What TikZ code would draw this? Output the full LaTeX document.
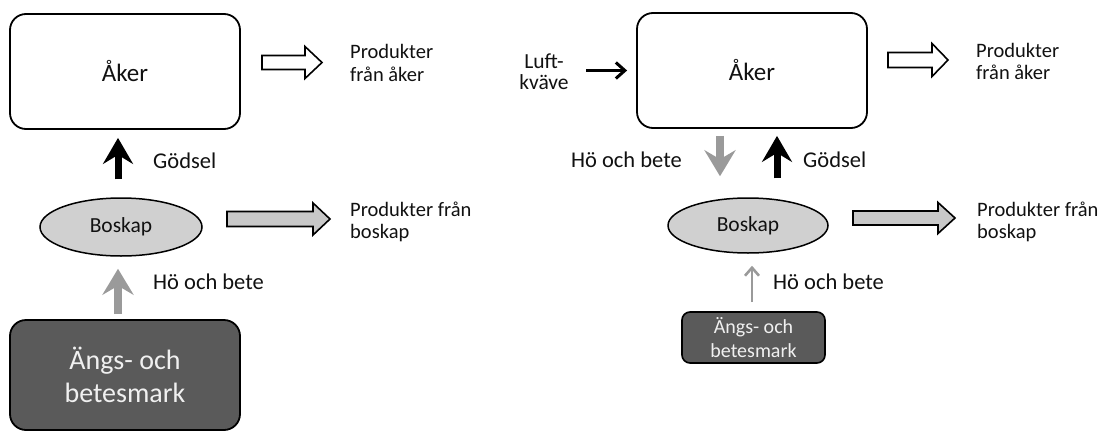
\documentclass[tikz,border=0pt]{standalone}
\usepackage{fontspec}
\setmainfont{Carlito}
\usetikzlibrary{arrows.meta,shapes.geometric}
\definecolor{txt}{HTML}{111111}
\definecolor{ellfill}{HTML}{D0D0D0}
\definecolor{arrfill}{HTML}{C8C8C8}
\definecolor{darkbox}{HTML}{5A5A5A}
\definecolor{darktxt}{HTML}{F0F0F0}
\definecolor{grayarr}{HTML}{9A9A9A}
\newcommand\blockarr[7]{%
  \draw[line width=1.6pt, line join=miter, fill=#7]
    (#1,#4-#5) -- (#3,#4-#5) -- (#3,#4-#6) -- (#2,#4) -- (#3,#4+#6) -- (#3,#4+#5) -- (#1,#4+#5) -- cycle;}
\tikzset{
  akerbox/.style={draw, line width=1.8pt, rounded corners=16pt, minimum width=230pt, minimum height=115pt, fill=white, text=txt, font=\fontsize{25}{29}\selectfont},
  boskapell/.style={ellipse, draw, line width=1.5pt, fill=ellfill, text=txt, inner sep=0pt, font=\fontsize{21.5}{25}\selectfont},
  bigdark/.style={draw, line width=1.8pt, rounded corners=16pt, fill=darkbox, text=darktxt, align=center, minimum width=230pt, minimum height=110pt, font=\fontsize{28}{33}\selectfont},
  smalldark/.style={draw, line width=1.6pt, rounded corners=8pt, fill=darkbox, text=darktxt, align=center, minimum width=143pt, minimum height=51pt, inner sep=0pt, font=\fontsize{20}{23.5}\selectfont},
  lbl/.style={text=txt, inner sep=0pt, align=left, font=\fontsize{20.5}{22.5}\selectfont},
  flowlbl/.style={text=txt, inner sep=0pt, font=\fontsize{22.5}{26}\selectfont},
  blkarrow/.style={draw=black, line width=7pt, -{Stealth[length=26pt, width=30pt, inset=9pt]}},
  gryarrow/.style={draw=grayarr, line width=8pt, -{Stealth[length=26pt, width=31pt, inset=9pt]}},
  thingray/.style={draw=grayarr, line width=2.6pt, -{Straight Barb[length=8pt, width=14pt, line width=2.6pt]}},
  thinblack/.style={draw=black, line width=3pt, -{Straight Barb[length=9pt, width=16pt, line width=3pt]}}
}
\begin{document}
\begin{tikzpicture}[x=1pt, y=-1pt]
\useasboundingbox (0,0) rectangle (1100,431);
% ---------- left panel ----------
\node[akerbox] (aker1) at (125,71.5) {Åker};
\node[boskapell, minimum width=162pt, minimum height=58pt] (bos1) at (121,227) {Boskap};
\node[bigdark] (ang1) at (125,375) {Ängs- och\\betesmark};
\node[lbl, anchor=west] (pa1) at (350,63) {Produkter\\från åker};
\node[lbl, anchor=west] (pb1) at (350,222) {Produkter från\\boskap};
\node[flowlbl, anchor=west] (g1) at (153,161) {Gödsel};
\node[flowlbl, anchor=west] (h1) at (153,282) {Hö och bete};
\draw[blkarrow] ([xshift=-3pt,yshift=18pt]bos1.north) -- ([xshift=-7pt,yshift=-8pt]aker1.south);
\draw[gryarrow] ([xshift=-7pt,yshift=5pt]ang1.north) -- ([xshift=-3pt,yshift=-12pt]bos1.south);
\blockarr{262}{322}{305}{62.5}{7}{16}{white}
\blockarr{227}{330}{313}{219}{7.5}{16}{arrfill}
% ---------- right panel ----------
\node[akerbox] (aker2) at (752,70.5) {Åker};
\node[boskapell, minimum width=160pt, minimum height=55pt] (bos2) at (748,225.5) {Boskap};
\node[smalldark] (ang2) at (753.5,337.5) {Ängs- och\\betesmark};
\node[lbl, anchor=center, align=center, font=\fontsize{21.5}{21}\selectfont] (luft) at (544,71.5) {Luft-\\kväve};
\node[lbl, anchor=west] (pa2) at (976,61.5) {Produkter\\från åker};
\node[lbl, anchor=west] (pb2) at (977,222) {Produkter från\\boskap};
\node[flowlbl, anchor=east] (h2) at (682,160) {Hö och bete};
\node[flowlbl, anchor=west] (g2) at (803,160) {Gödsel};
\node[flowlbl, anchor=west] (h3) at (773,282) {Hö och bete};
\draw[thinblack] ([xshift=-50pt]aker2.west) -- ([xshift=-9pt]aker2.west);
\draw[gryarrow] ([xshift=-32pt,yshift=-7pt]aker2.south) -- ([xshift=-28pt,yshift=21pt]bos2.north);
\draw[blkarrow] ([xshift=29pt,yshift=19pt]bos2.north) -- ([xshift=25pt,yshift=-7pt]aker2.south);
\draw[thingray] ([xshift=-1.5pt,yshift=9pt]ang2.north) -- ([xshift=4pt,yshift=-12pt]bos2.south);
\blockarr{888}{948}{932}{60}{7.5}{16.5}{white}
\blockarr{853}{955}{938}{218}{7}{15.5}{arrfill}
\end{tikzpicture}
\end{document}
